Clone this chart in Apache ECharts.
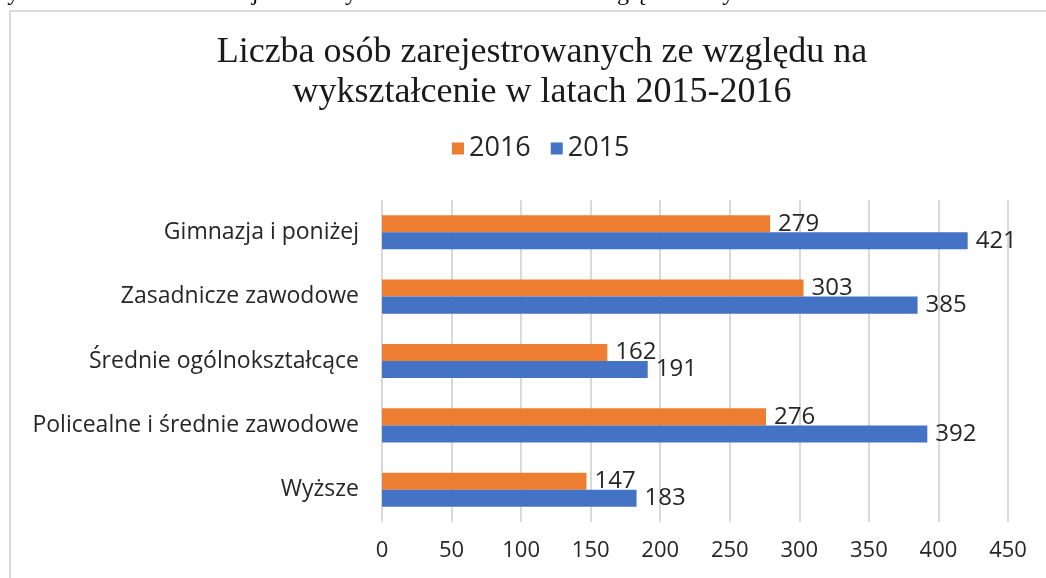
<!DOCTYPE html>
<html><head><meta charset="utf-8">
<script src="https://cdn.jsdelivr.net/npm/echarts@6/dist/echarts.min.js"></script>
<style>html,body{margin:0;padding:0;background:#fff}#c{width:1046px;height:578px}</style>
</head><body><div id="c"></div>
<script>
const categories = ["Gimnazja i poniżej", "Zasadnicze zawodowe", "Średnie ogólnokształcące", "Policealne i średnie zawodowe", "Wyższe"];
const values2016 = [279, 303, 162, 276, 147];
const values2015 = [421, 385, 191, 392, 183];
const seriesNames = ["2016", "2015"];
const xTicks = {min: 0, max: 450, interval: 50};
const titleLines = ["Liczba osób zarejestrowanych ze względu na", "wykształcenie w latach 2015-2016"];
const captionText = "Wykres 6. Liczba osób zarejestrowanych w PUP w Mławie ze względu na wykształcenie";

const chart = echarts.init(document.getElementById('c'), null, {renderer: 'canvas'});
const sans = "'Open Sans', 'Noto Sans', sans-serif";
const labelStyle = {show: true, position: 'right', distance: 8, color: '#262626', fontSize: 24, fontFamily: sans};
chart.setOption({
  backgroundColor: '#fff',
  animation: false,
  title: {
    text: titleLines.join('\n'),
    left: 537, top: 28, textAlign: 'center',
    textStyle: {fontFamily: "'Liberation Serif', 'DejaVu Serif', serif", fontSize: 36, fontWeight: 'normal', color: '#1a1a1a', lineHeight: 40}
  },
  graphic: [
    {type: 'rect', shape: {x: 10, y: 11, width: 1060, height: 600}, style: {fill: 'none', stroke: '#d9d9d9', lineWidth: 2}, z: -1},
    {type: 'text', left: -14, top: -18, style: {text: captionText, font: "24px 'Liberation Serif', serif", fill: '#000'}}
  ],
  legend: {
    data: seriesNames, top: 130, left: 447, itemGap: 20,
    itemWidth: 12, itemHeight: 12, icon: 'rect',
    textStyle: {fontFamily: sans, fontSize: 27, color: '#262626'}
  },
  grid: {left: 382, right: 38, top: 200, bottom: 56, containLabel: false},
  xAxis: {
    type: 'value', min: xTicks.min, max: xTicks.max, interval: xTicks.interval,
    axisLine: {show: false}, axisTick: {show: false},
    splitLine: {show: true, lineStyle: {color: '#d9d9d9', width: 2}},
    axisLabel: {fontFamily: sans, fontSize: 22, color: '#262626', margin: 18}
  },
  yAxis: {
    type: 'category', data: categories, inverse: true,
    axisLine: {show: false}, axisTick: {show: false},
    axisLabel: {fontFamily: sans, fontSize: 23, color: '#262626', margin: 23}
  },
  series: [
    {name: seriesNames[0], type: 'bar', data: values2016, barGap: '0%', barCategoryGap: '47%',
     itemStyle: {color: '#ED7D31'}, label: labelStyle},
    {name: seriesNames[1], type: 'bar', data: values2015, barGap: '0%', barCategoryGap: '47%',
     itemStyle: {color: '#4472C4'}, label: labelStyle}
  ]
});
</script></body></html>
